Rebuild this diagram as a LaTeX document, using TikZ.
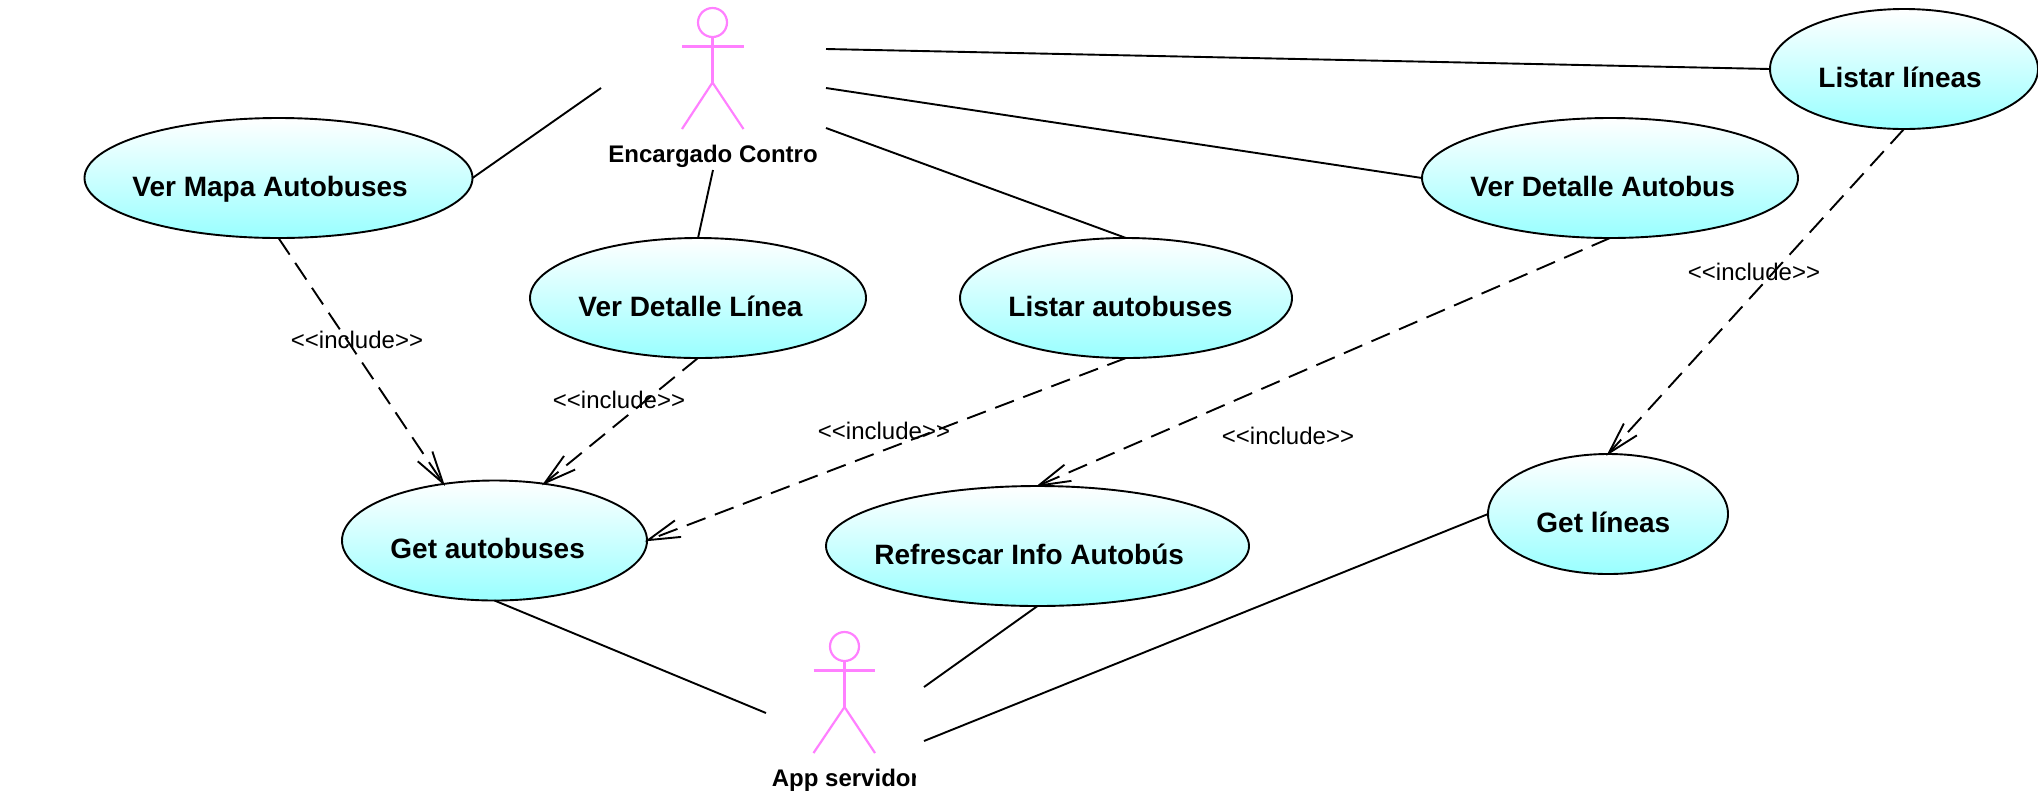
\documentclass[tikz,border=0pt]{standalone}
\usepackage{fontspec}
\setmainfont{Liberation Sans}[Ligatures=NoCommon]
\usetikzlibrary{shapes.geometric,arrows.meta}
\definecolor{actorpink}{HTML}{FF80FF}
\definecolor{ucyan}{HTML}{99FFFF}
\newcommand{\inctext}{{<}{<}include{>}{>}}
\tikzset{
  usecase/.style={ellipse,draw=black,line width=0.95pt,top color=white,bottom color=ucyan,inner sep=0pt,outer sep=0pt,minimum height=60pt},
  uctext/.style={anchor=base west,inner sep=0pt,font=\fontsize{14}{16}\selectfont\bfseries},
  actorlabel/.style={anchor=base,inner sep=0pt,font=\fontsize{12}{14}\selectfont\bfseries},
  inclabel/.style={inner sep=0pt,font=\fontsize{12}{14}\selectfont},
  assoc/.style={draw=black,line width=0.95pt},
  incl/.style={draw=black,line width=0.95pt,dash pattern=on 10pt off 5pt,shorten >=-1.2pt,-{Straight Barb[length=16pt,width=8.8pt,line width=0.95pt]}},
  actorline/.style={draw=actorpink,line width=1.1pt}
}
\begin{document}
\begin{tikzpicture}[x=0.5pt,y=-0.5pt]
\useasboundingbox (0,0) rectangle (2038,794);
% use cases
\node[usecase,minimum width=194pt] (mapa) at (278.5,178) {};
\node[usecase,minimum width=168pt] (linea) at (698,298) {};
\node[usecase,minimum width=166pt] (lbus) at (1126,298) {};
\node[usecase,minimum width=188pt] (dbus) at (1610,178) {};
\node[usecase,minimum width=134pt] (llin) at (1904,69) {};
\node[usecase,minimum width=152.5pt] (gbus) at (494.5,540.5) {};
\node[usecase,minimum width=211.5pt] (refr) at (1037.5,546) {};
\node[usecase,minimum width=120pt] (glin) at (1608,514) {};
\node[uctext] (tmapa) at (132,196) {Ver Mapa Autobuses};
\node[uctext] (tlinea) at (578,316) {Ver Detalle Línea};
\node[uctext] (tlbus) at (1008,316) {Listar autobuses};
\node[uctext] (tdbus) at (1470,196) {Ver Detalle Autobus};
\node[uctext] (tllin) at (1818,87) {Listar líneas};
\node[uctext] (tgbus) at (390,558) {Get autobuses};
\node[uctext] (trefr) at (874,564) {Refrescar Info Autobús};
\node[uctext] (tglin) at (1536,532) {Get líneas};
% actor Encargado
\node[circle,actorline,fill=none,inner sep=0pt,minimum size=14.5pt] (ehead) at (712.5,22.5) {};
\coordinate (ehip) at (712.5,82.5);
\draw[actorline] (ehead.south) -- (ehip);
\draw[actorline] (682,46.5) -- (743.5,46.5);
\draw[actorline] (682,129) -- (ehip) -- (743.5,129);
\node[actorlabel] (elabel) at (713,162) {Encargado Contro};
% actor App
\node[circle,actorline,fill=none,inner sep=0pt,minimum size=14.5pt] (ahead) at (844.5,646.5) {};
\coordinate (ahip) at (844.5,707);
\draw[actorline] (ahead.south) -- (ahip);
\draw[actorline] (813.5,670.5) -- (875,670.5);
\draw[actorline] (813.5,753) -- (ahip) -- (875,753);
\begin{scope}
\clip (760,760) rectangle (915,794);
\node[anchor=base west,inner sep=0pt,font=\fontsize{12}{14}\selectfont\bfseries] (alabel) at (771.5,786) {App servidor};
\end{scope}
% free ends
\coordinate (e1) at (601,88);
\coordinate (e2) at (826,49);
\coordinate (e3) at (826,88);
\coordinate (e4) at (826,128);
\coordinate (e5) at (713,170);
\coordinate (a1) at (766,713);
\coordinate (a2) at (924,687);
\coordinate (a3) at (924,741);
% associations
\draw[assoc] (mapa.east) -- (e1);
\draw[assoc] (e2) -- (llin.west);
\draw[assoc] (e3) -- (dbus.west);
\draw[assoc] (e4) -- (lbus.north);
\draw[assoc] (e5) -- (linea.north);
\draw[assoc] (gbus.south) -- (a1);
\draw[assoc] (refr.south) -- (a2);
\draw[assoc] (glin.west) -- (a3);
% includes
\draw[incl] (mapa.south) -- (gbus.132);
\draw[incl] (linea.south) -- (gbus.49);
\draw[incl] (lbus.south) -- (gbus.east);
\draw[incl] (dbus.south) -- (refr.north);
\draw[incl] (llin.south) -- (glin.north);
\node[inclabel] (i1) at (357,340) {\inctext};
\node[inclabel] (i2) at (619,400) {\inctext};
\node[inclabel] (i3) at (884,431) {\inctext};
\node[inclabel] (i4) at (1288,436) {\inctext};
\node[inclabel] (i5) at (1754,272) {\inctext};
\end{tikzpicture}
\end{document}
